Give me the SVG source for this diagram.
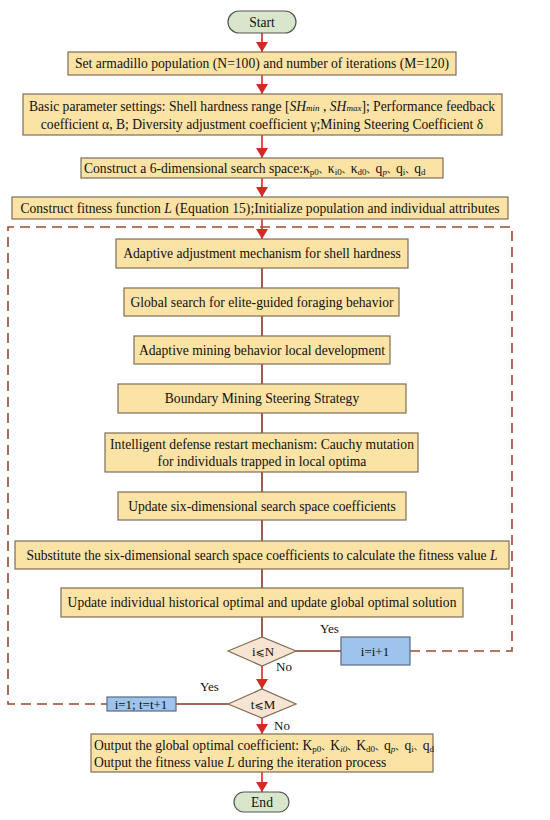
<svg xmlns="http://www.w3.org/2000/svg" width="550" height="820" viewBox="0 0 550 820">
<style>
text{font-family:"Liberation Serif","Times New Roman",serif;font-size:13.6px;fill:#111}
.b{fill:#fbe2a5;stroke:#7d6e55;stroke-width:1.2}
.t{fill:#d8e6cc;stroke:#555;stroke-width:1.2}
.d{fill:#f8e4d2;stroke:#7d6e55;stroke-width:1.2}
.bl{fill:#9cc4ec;stroke:#5a6a80;stroke-width:1.2}
.c{text-anchor:middle}
.ar{stroke:#d42a22;stroke-width:1.6;fill:none}
.ln{stroke:#8a3324;stroke-width:1.6;fill:none}
.ds{stroke:#9a4a2a;stroke-width:1.6;fill:none;stroke-dasharray:10,6}
.s{font-size:9px}
.i{font-style:italic}
.sm{font-size:13px}
.le{font-family:"DejaVu Sans","Liberation Serif",sans-serif;font-size:11px}
.cj{font-family:"Noto Sans CJK SC",sans-serif;font-size:9px}
</style>
<defs>
<marker id="ah" markerUnits="userSpaceOnUse" markerWidth="10" markerHeight="12" viewBox="0 0 10 12" refX="10" refY="6" orient="auto">
<path d="M0,0 L10,6 L0,12 Z" fill="#d42a22"/>
</marker>
</defs>
<g id="connectors">
<line class="ar" x1="262" y1="33" x2="262" y2="52" marker-end="url(#ah)"/>
<line class="ar" x1="262" y1="75" x2="262" y2="94" marker-end="url(#ah)"/>
<line class="ar" x1="262" y1="135" x2="262" y2="158" marker-end="url(#ah)"/>
<line class="ar" x1="262" y1="178" x2="262" y2="197" marker-end="url(#ah)"/>
<line class="ar" x1="262" y1="219" x2="262" y2="239" marker-end="url(#ah)"/>
<line class="ln" x1="262" y1="268" x2="262" y2="288"/>
<line class="ln" x1="262" y1="316" x2="262" y2="336"/>
<line class="ln" x1="262" y1="364" x2="262" y2="384"/>
<line class="ln" x1="262" y1="413" x2="262" y2="433"/>
<line class="ln" x1="262" y1="472" x2="262" y2="492"/>
<line class="ln" x1="262" y1="520" x2="262" y2="541"/>
<line class="ln" x1="262" y1="569" x2="262" y2="588"/>
<line class="ln" x1="262" y1="617" x2="262" y2="637"/>
<line class="ar" x1="262" y1="666" x2="262" y2="689" marker-end="url(#ah)"/>
<line class="ar" x1="262" y1="718" x2="262" y2="734" marker-end="url(#ah)"/>
<line class="ar" x1="262" y1="772" x2="262" y2="792" marker-end="url(#ah)"/>
<line class="ln" x1="295" y1="651" x2="341" y2="651"/>
<line class="ln" x1="228" y1="704" x2="176" y2="704"/>
<path class="ds" d="M410,651 H512 V227 H8 V704 H107"/>
<text class="sm" x="320" y="633">Yes</text>
<text class="sm" x="276" y="671">No</text>
<text class="sm" x="200" y="691">Yes</text>
<text class="sm" x="274" y="730">No</text>
</g>
<g id="start"><rect class="t" x="228" y="11" width="68" height="22" rx="11"/><text class="c" x="262" y="27">Start</text></g>
<g id="n1"><rect class="b" x="68" y="52" width="388" height="23"/><text class="c" x="262" y="68">Set armadillo population (N=100) and number of iterations (M=120)</text></g>
<g id="n2"><rect class="b" x="23" y="94" width="479" height="41"/>
<text class="c" x="262" y="111">Basic parameter settings: Shell hardness range [<tspan class="i">SH</tspan><tspan class="i s">min</tspan> , <tspan class="i">SH</tspan><tspan class="i s">max</tspan>]; Performance feedback</text>
<text class="c" x="262" y="129">coefficient α, B; Diversity adjustment coefficient γ;Mining Steering Coefficient δ</text></g>
<g id="n3"><rect class="b" x="81" y="158" width="362" height="20"/>
<text x="84" y="173">Construct a 6-dimensional search space:κ<tspan class="s" dy="2">p0</tspan><tspan class="cj" dy="-2">、</tspan>κ<tspan class="s" dy="2">i0</tspan><tspan class="cj" dy="-2">、</tspan>κ<tspan class="s" dy="2">d0</tspan><tspan class="cj" dy="-2">、</tspan>q<tspan class="s i" dy="2">p</tspan><tspan class="cj" dy="-2">、</tspan>q<tspan class="s" dy="2">i</tspan><tspan class="cj" dy="-2">、</tspan>q<tspan class="s" dy="2">d</tspan></text></g>
<g id="n4"><rect class="b" x="12" y="197" width="496" height="22"/><text class="c" x="260" y="213">Construct fitness function <tspan class="i">L</tspan> (Equation 15);Initialize population and individual attributes</text></g>
<g id="nA"><rect class="b" x="116" y="239" width="292" height="29"/><text class="c" x="262" y="258">Adaptive adjustment mechanism for shell hardness</text></g>
<g id="nB"><rect class="b" x="124" y="288" width="275" height="28"/><text class="c" x="262" y="307">Global search for elite-guided foraging behavior</text></g>
<g id="nC"><rect class="b" x="134" y="336" width="256" height="28"/><text class="c" x="262" y="355">Adaptive mining behavior local development</text></g>
<g id="nD"><rect class="b" x="118" y="384" width="288" height="29"/><text class="c" x="262" y="403">Boundary Mining Steering Strategy</text></g>
<g id="nE"><rect class="b" x="105" y="433" width="313" height="39"/><text class="c" x="262" y="449">Intelligent defense restart mechanism: Cauchy mutation</text><text class="c" x="262" y="466">for individuals trapped in local optima</text></g>
<g id="nF"><rect class="b" x="118" y="492" width="288" height="28"/><text class="c" x="262" y="511">Update six-dimensional search space coefficients</text></g>
<g id="nG"><rect class="b" x="15" y="541" width="494" height="28"/><text class="c" x="262" y="560">Substitute the six-dimensional search space coefficients to calculate the fitness value <tspan class="i">L</tspan></text></g>
<g id="nH"><rect class="b" x="61" y="588" width="402" height="29"/><text class="c" x="262" y="607">Update individual historical optimal and update global optimal solution</text></g>
<g id="dN"><path class="d" d="M228,651 L262,637 L296,651 L262,666 Z"/><text class="c sm" x="263" y="656">i<tspan class="le">⩽</tspan>N</text></g>
<g id="inc"><rect class="bl" x="341" y="637" width="69" height="28"/><text class="c sm" x="375" y="656">i=i+1</text></g>
<g id="dM"><path class="d" d="M228,704 L262,689 L296,704 L262,718 Z"/><text class="c sm" x="263" y="709">t<tspan class="le">⩽</tspan>M</text></g>
<g id="reset"><rect class="bl" x="107" y="697" width="69" height="14"/><text class="c sm" x="141" y="709">i=1; t=t+1</text></g>
<g id="out"><rect class="b" x="91" y="734" width="342" height="38"/>
<text x="94" y="750">Output the global optimal coefficient: K<tspan class="s" dy="2">p0</tspan><tspan class="cj" dy="-2">、</tspan>K<tspan class="s i" dy="2">i0</tspan><tspan class="cj" dy="-2">、</tspan>K<tspan class="s" dy="2">d0</tspan><tspan class="cj" dy="-2">、</tspan>q<tspan class="s i" dy="2">p</tspan><tspan class="cj" dy="-2">、</tspan>q<tspan class="s" dy="2">i</tspan><tspan class="cj" dy="-2">、</tspan>q<tspan class="s" dy="2">d</tspan></text>
<text x="94" y="767">Output the fitness value <tspan class="i">L</tspan> during the iteration process</text></g>
<g id="end"><rect class="t" x="234" y="792" width="55" height="20" rx="10"/><text class="c" x="262" y="807">End</text></g>
</svg>
